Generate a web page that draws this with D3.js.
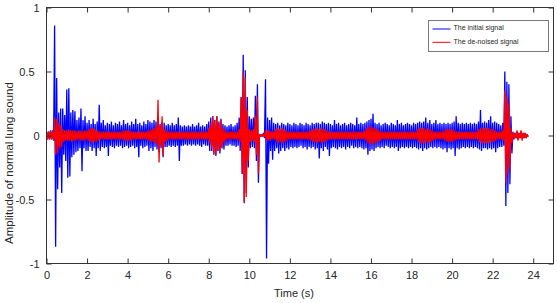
<!DOCTYPE html>
<html><head><meta charset="utf-8">
<script src="https://cdn.jsdelivr.net/npm/d3@7"></script>
<style>
body{margin:0;background:#fff}
svg{display:block}
text{font-family:"Liberation Sans",Arial,sans-serif;fill:#262626}
</style>
</head><body><svg id="c" width="557" height="303"></svg>
<script>
// Envelope samples, one per 0.1 s, amplitudes in hundredths
const sampleStep = 0.1;
const blueHi = [
3,3,4,4,86,45,18,21,21,16,
36,37,18,20,19,12,14,21,12,15,
10,12,9,13,9,11,24,10,12,8,
10,9,11,8,10,9,11,8,12,9,
10,8,11,9,13,9,10,8,11,9,
12,11,10,12,11,12,9,11,10,8,
9,8,10,8,9,14,8,7,8,7,
8,7,9,7,8,10,7,8,7,9,
11,14,15,12,15,11,13,9,8,7,
8,9,7,8,10,14,30,63,51,30,
15,13,14,31,40,1,1,2,44,14,
12,14,10,9,10,8,10,9,8,10,
9,8,10,9,8,10,9,8,10,9,
8,10,9,10,10,9,11,10,9,10,
9,8,12,9,10,8,9,10,8,9,
10,9,8,14,9,10,9,10,11,12,
13,17,10,9,10,8,9,10,9,8,
10,9,8,12,9,10,8,9,10,9,
8,10,9,10,11,10,11,14,10,12,
9,10,12,9,10,9,10,9,10,9,
10,11,15,10,9,10,9,10,9,10,
9,10,9,11,20,10,11,10,12,15,
10,11,10,9,8,10,50,42,40,15,
3,2,3,2,3,2,2,1];
const blueLo = [
-3,-3,-3,-4,-87,-42,-25,-45,-15,-20,
-33,-32,-17,-15,-13,-12,-10,-28,-10,-12,
-12,-9,-12,-10,-16,-10,-12,-9,-10,-9,
-16,-8,-9,-10,-8,-9,-8,-10,-9,-8,
-10,-9,-8,-10,-9,-17,-8,-10,-9,-8,
-12,-10,-12,-9,-11,-13,-10,-17,-9,-9,
-8,-9,-8,-9,-8,-20,-8,-8,-7,-8,
-7,-8,-7,-8,-7,-8,-9,-7,-8,-8,
-12,-12,-15,-16,-12,-14,-10,-11,-8,-8,
-7,-8,-8,-9,-8,-12,-30,-53,-45,-25,
-10,-9,-10,-20,-37,-1,-1,-2,-96,-22,
-12,-19,-12,-10,-14,-12,-10,-12,-10,-11,
-9,-10,-9,-10,-9,-8,-10,-9,-11,-9,
-10,-9,-11,-10,-18,-10,-12,-9,-11,-16,
-10,-9,-10,-11,-9,-10,-9,-11,-9,-10,
-8,-10,-9,-10,-9,-10,-11,-10,-15,-12,
-11,-12,-10,-9,-10,-9,-10,-8,-9,-10,
-9,-10,-9,-12,-10,-9,-10,-9,-10,-9,
-10,-9,-10,-11,-10,-12,-10,-11,-10,-9,
-10,-9,-10,-9,-10,-11,-10,-13,-10,-11,
-10,-16,-10,-11,-10,-9,-10,-9,-10,-9,
-10,-9,-10,-11,-12,-10,-10,-11,-10,-11,
-10,-13,-10,-9,-9,-8,-55,-45,-38,-14,
-3,-2,-3,-2,-2,-2,-2,-1];
const redHi = [
3,3,3,3,14,13,10,8,5,4,
4,5,4,4,4,3,4,4,3,4,
4,5,6,6,5,4,3,3,3,3,
3,3,3,3,3,3,3,3,4,4,
4,4,3,3,3,3,3,3,3,3,
4,4,5,6,7,28,8,15,5,4,
3,3,3,3,3,3,3,3,3,3,
3,3,3,3,3,3,3,3,3,3,
6,10,15,12,15,10,12,6,4,3,
3,3,3,3,3,5,30,50,45,20,
5,4,5,15,30,1,1,1,4,4,
4,3,3,5,6,5,6,5,4,3,
3,3,3,3,3,3,3,3,3,3,
4,5,5,6,5,6,5,5,4,3,
3,3,3,3,3,3,3,3,3,3,
3,3,3,3,3,3,3,4,6,7,
7,6,6,5,4,3,3,3,3,3,
3,3,3,3,3,3,3,3,3,3,
3,3,3,5,6,6,6,5,6,5,
4,3,3,3,3,3,4,5,5,5,
5,4,3,3,3,3,3,3,3,3,
3,3,3,5,6,6,6,6,6,5,
5,4,3,3,3,4,35,30,25,6,
2,2,4,2,4,2,2,1];
const redLo = [
-3,-3,-3,-3,-15,-14,-10,-9,-5,-4,
-4,-4,-5,-4,-4,-3,-4,-4,-4,-3,
-4,-5,-6,-5,-5,-4,-3,-3,-3,-3,
-3,-3,-3,-3,-3,-3,-3,-3,-4,-4,
-4,-4,-3,-3,-3,-3,-3,-3,-3,-3,
-4,-5,-5,-6,-7,-21,-8,-16,-5,-4,
-3,-3,-3,-3,-3,-3,-3,-3,-3,-3,
-3,-3,-3,-3,-3,-3,-3,-3,-3,-3,
-6,-10,-14,-15,-12,-12,-10,-6,-4,-3,
-3,-3,-3,-3,-3,-5,-30,-52,-48,-20,
-5,-4,-5,-15,-30,-1,-1,-1,-4,-4,
-4,-3,-3,-5,-6,-5,-6,-5,-4,-3,
-3,-3,-3,-3,-3,-3,-3,-3,-3,-3,
-4,-5,-5,-6,-5,-6,-5,-5,-4,-3,
-3,-3,-3,-3,-3,-3,-3,-3,-3,-3,
-3,-3,-3,-3,-3,-3,-3,-4,-6,-7,
-7,-6,-6,-5,-4,-3,-3,-3,-3,-3,
-3,-3,-3,-3,-3,-3,-3,-3,-3,-3,
-3,-3,-3,-5,-6,-6,-6,-5,-6,-5,
-4,-3,-3,-3,-3,-3,-4,-5,-5,-5,
-5,-4,-3,-3,-3,-3,-3,-3,-3,-3,
-3,-3,-3,-5,-6,-6,-6,-6,-6,-5,
-5,-4,-3,-3,-3,-4,-37,-30,-25,-6,
-2,-2,-4,-2,-4,-2,-2,-1];

const xTicks = [0,2,4,6,8,10,12,14,16,18,20,22,24];
const yTicks = [-1,-0.5,0,0.5,1];
const seriesNames = ["The initial signal","The de-noised signal"];
const seriesColors = ["#0000ff","#ff0000"];
const xLabel = "Time (s)";
const yLabel = "Amplitude of normal lung sound";

const svg = d3.select("#c");
const L = 46.5, R = 553.5, T = 7.5, B = 263.5;
const x = d3.scaleLinear().domain([0,25]).range([L,R]);
const y = d3.scaleLinear().domain([-1,1]).range([B,T]);

// oscillating trace: each sample's high value then its low value half a step later
function trace(hi, lo){
  const pts = [];
  hi.forEach((h,i)=>{
    pts.push([i*sampleStep, h/100]);
    pts.push([i*sampleStep + sampleStep/2, lo[i]/100]);
  });
  return pts;
}
const line = d3.line().x(d=>x(d[0])).y(d=>y(d[1]));

svg.append("defs").append("clipPath").attr("id","clip")
  .append("rect").attr("x",L).attr("y",T).attr("width",R-L).attr("height",B-T);
const plot = svg.append("g").attr("clip-path","url(#clip)");
plot.append("path").attr("d", line(trace(blueHi, blueLo)))
  .attr("fill","none").attr("stroke",seriesColors[0]).attr("stroke-width",1.3)
  .attr("stroke-linejoin","bevel");
plot.append("path").attr("d", line(trace(redHi, redLo)))
  .attr("fill","none").attr("stroke",seriesColors[1]).attr("stroke-width",1.3)
  .attr("stroke-linejoin","bevel");

const axisColor = "#333";
function style(g){
  g.select(".domain").remove();
  g.selectAll("line").attr("stroke",axisColor);
  g.selectAll("text").attr("fill","#262626").style("font-size","11px")
   .style("font-family",'"Liberation Sans",Arial,sans-serif');
}
svg.append("g").attr("transform",`translate(0,${B})`)
  .call(d3.axisBottom(x).tickValues(xTicks).tickSizeInner(-5).tickSizeOuter(0).tickPadding(8).tickFormat(d3.format("d")))
  .call(style);
svg.append("g").attr("transform",`translate(0,${T})`)
  .call(d3.axisTop(x).tickValues(xTicks).tickSizeInner(-5).tickSizeOuter(0).tickFormat(""))
  .call(style);
const ly = svg.append("g").attr("transform",`translate(${L},0)`)
  .call(d3.axisLeft(y).tickValues(yTicks).tickSizeInner(-5).tickSizeOuter(0).tickPadding(7).tickFormat(d=>String(d)))
  .call(style);
ly.selectAll(".tick text").filter(d=>!Number.isInteger(d)).attr("x",-12);
svg.append("g").attr("transform",`translate(${R},0)`)
  .call(d3.axisRight(y).tickValues(yTicks).tickSizeInner(-5).tickSizeOuter(0).tickFormat(""))
  .call(style);
svg.append("rect").attr("x",L).attr("y",T).attr("width",R-L).attr("height",B-T)
  .attr("fill","none").attr("stroke",axisColor).attr("stroke-width",1);

svg.append("text").attr("x",294).attr("y",297).attr("text-anchor","middle")
  .style("font-size","11px").text(xLabel);
svg.append("text").attr("transform","translate(13,163) rotate(-90)").attr("text-anchor","middle")
  .style("font-size","11.5px").text(yLabel);

const lg = svg.append("g");
lg.append("rect").attr("x",428.5).attr("y",20.5).attr("width",120).attr("height",31)
  .attr("fill","#fff").attr("stroke","#7a7a7a").attr("stroke-width",1);
seriesNames.forEach((name,i)=>{
  const yy = 29 + i*13.3;
  lg.append("line").attr("x1",432.5).attr("x2",450.5).attr("y1",yy).attr("y2",yy)
    .attr("stroke",seriesColors[i]).attr("stroke-width",1);
  lg.append("text").attr("x",453.5).attr("y",yy-0.5).attr("dominant-baseline","middle")
    .style("font-size","7px").text(name);
});
</script></body></html>
